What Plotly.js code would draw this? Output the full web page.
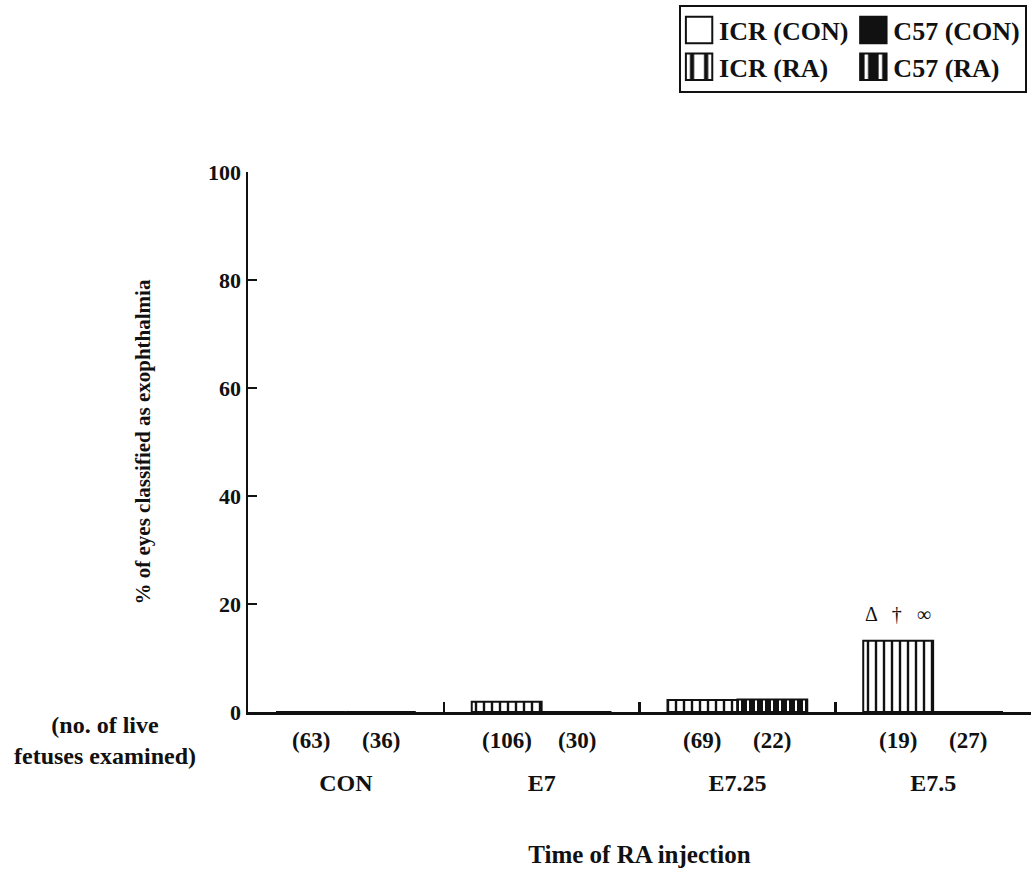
<!DOCTYPE html>
<html>
<head>
<meta charset="utf-8">
<script src="https://cdn.plot.ly/plotly-3.0.1.min.js"></script>
<style>html,body{margin:0;padding:0;background:#fff;}#chart{width:1032px;height:870px;}</style>
</head>
<body>
<div id="chart"></div>
<script>
// Data
const categories = ['CON', 'E7', 'E7.25', 'E7.5'];
const icrCon = [0, null, null, null];
const c57Con = [0, null, null, null];
const icrRA  = [null, 1.9, 2.2, 13.2];
const c57RA  = [null, 0, 2.3, 0];
const nFetusesICR = [63, 106, 69, 19];
const nFetusesC57 = [36, 30, 22, 27];
const significanceMarks = 'Δ   †   ∞';
const yTicks = [0, 20, 40, 60, 80, 100];

const SERIF = '"Liberation Serif", "Times New Roman", serif';
const INK = '#111';
const lineStyle = {color: INK, width: 2};

const traces = [
  {type: 'bar', name: 'ICR (CON)', x: categories, y: icrCon, offsetgroup: 'ICR', legendgroup: 'ICR',
   marker: {color: 'white', line: lineStyle}},
  {type: 'bar', name: 'ICR (RA)', x: categories, y: icrRA, offsetgroup: 'ICR', legendgroup: 'ICR',
   marker: {color: 'white', line: lineStyle,
            pattern: {shape: '|', bgcolor: 'white', fgcolor: INK, size: 8, solidity: 0.3}}},
  {type: 'bar', name: 'C57 (CON)', x: categories, y: c57Con, offsetgroup: 'C57', legendgroup: 'C57',
   marker: {color: INK, line: lineStyle}},
  {type: 'bar', name: 'C57 (RA)', x: categories, y: c57RA, offsetgroup: 'C57', legendgroup: 'C57',
   marker: {color: INK, line: lineStyle,
            pattern: {shape: '|', bgcolor: INK, fgcolor: 'white', size: 8, solidity: 0.25}}}
];

const boldFont = (size) => ({family: SERIF, size: size, color: INK, weight: 'bold'});
const half = 0.179; // bar centre offset within a category (in category units)
const annotations = [];
categories.forEach((c, i) => {
  annotations.push({x: i - half, y: -0.052, xref: 'x', yref: 'paper', text: '(' + nFetusesICR[i] + ')',
    showarrow: false, xanchor: 'center', yanchor: 'middle', font: boldFont(23)});
  annotations.push({x: i + half, y: -0.052, xref: 'x', yref: 'paper', text: '(' + nFetusesC57[i] + ')',
    showarrow: false, xanchor: 'center', yanchor: 'middle', font: boldFont(23)});
});
annotations.push({x: 3 - half, y: icrRA[3], xref: 'x', yref: 'y', text: significanceMarks,
  showarrow: false, xanchor: 'center', yanchor: 'bottom', yshift: 14,
  font: {family: SERIF, size: 20, color: INK}});
annotations.push({x: -0.183, y: -0.053, xref: 'paper', yref: 'paper',
  text: '(no. of live<br>fetuses examined)', showarrow: false, align: 'center',
  xanchor: 'center', yanchor: 'middle', font: boldFont(24)});

const layout = {
  width: 1032, height: 870,
  margin: {l: 248, r: 1, t: 172, b: 158, pad: 0},
  paper_bgcolor: 'white', plot_bgcolor: 'white',
  barmode: 'group', bargap: 0.286, bargroupgap: 0,
  font: {family: SERIF, color: INK},
  showlegend: true,
  legend: {orientation: 'h', x: 0.995, xanchor: 'right', y: 1.31, yanchor: 'top',
    bordercolor: INK, borderwidth: 2, bgcolor: 'white',
    font: boldFont(26), traceorder: 'grouped', tracegroupgap: 0, itemwidth: 30},
  xaxis: {
    type: 'category', categoryorder: 'array', categoryarray: categories,
    range: [-0.5, 3.5], showgrid: false, zeroline: false,
    showline: true, linecolor: INK, linewidth: 2.5,
    ticks: 'inside', tickson: 'boundaries', ticklen: 10, tickwidth: 2.5, tickcolor: INK,
    tickfont: boldFont(24),
    ticklabelstandoff: 48,
    title: {text: 'Time of RA injection', standoff: 50, font: boldFont(25)}
  },
  yaxis: {
    range: [0, 100], tickvals: yTicks, showgrid: false, zeroline: false,
    showline: true, linecolor: INK, linewidth: 2.5,
    ticks: 'inside', ticklen: 9, tickwidth: 2.5, tickcolor: INK,
    tickfont: boldFont(22),
    title: {text: '% of eyes classified as exophthalmia', standoff: 52, font: boldFont(21)}
  },
  annotations: annotations
};

Plotly.newPlot('chart', traces, layout, {displayModeBar: false, staticPlot: true}).then(() => {
  // enlarge the legend swatches to match the reference's large key boxes
  document.querySelectorAll('.legend .legendpoints path').forEach(p => {
    const t = p.getAttribute('transform') || '';
    p.setAttribute('transform', t + ' scale(2.2)');
    p.style.vectorEffect = 'non-scaling-stroke';
  });
});
</script>
</body>
</html>
